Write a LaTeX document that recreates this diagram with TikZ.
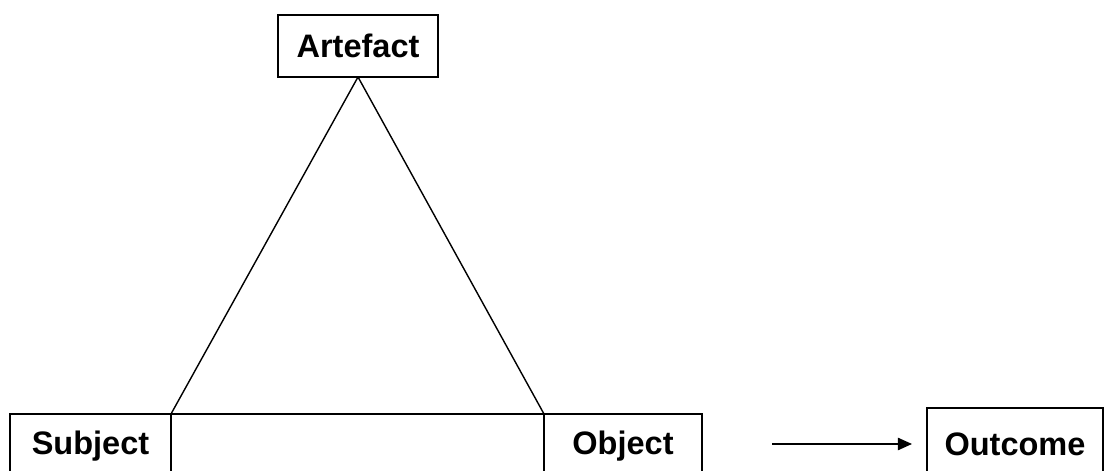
\documentclass[tikz,border=0pt]{standalone}
\usepackage{fontspec}
\setmainfont{Liberation Sans}
\usetikzlibrary{positioning,arrows.meta}

\tikzset{
  box/.style={draw,line width=1.1pt,outer sep=0pt,inner sep=0pt,
    font=\fontsize{18.5}{22}\selectfont\bfseries}
}

\begin{document}
\begin{tikzpicture}
\clip (0,0) rectangle (22.26,9.42);

\node[box,minimum width=3.2cm,minimum height=1.24cm] (art) at (7.16,8.5) {Artefact};

% bottom row of joined boxes
\node[box,minimum width=3.22cm,minimum height=1.28cm] (subj) at (1.81,0.5) {Subject};
\node[box,minimum width=7.46cm,minimum height=1.28cm,right=0pt of subj] (mid) {};
\node[box,minimum width=3.16cm,minimum height=1.28cm,right=0pt of mid] (obj) {Object};

\node[box,minimum width=3.52cm,minimum height=1.44cm] (out) at (20.3,0.54) {Outcome};

\draw[line width=0.8pt] (art.south) -- (mid.north west);
\draw[line width=0.8pt] (art.south) -- (mid.north east);

\coordinate (a1) at (15.44,0.54);
\draw[line width=0.8pt,-{Triangle[length=8pt,width=7pt]}] (a1) -- ++(2.8,0);
\end{tikzpicture}
\end{document}
